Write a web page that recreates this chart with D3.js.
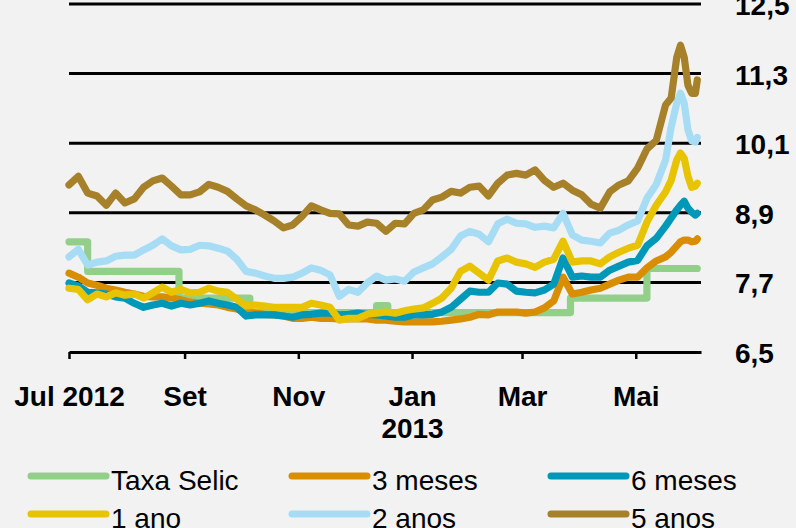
<!DOCTYPE html>
<html>
<head>
<meta charset="utf-8">
<script src="https://cdn.jsdelivr.net/npm/d3@7"></script>
<style>
  body { margin: 0; background: #f2f2f2; }
  svg { display: block; }
</style>
</head>
<body>
<script>
var width = 796, height = 528;

// sample dates (shared by the five yield curves)
var dates = ["2012-07-01","2012-07-06","2012-07-11","2012-07-16","2012-07-21","2012-07-26","2012-07-31",
  "2012-08-05","2012-08-10","2012-08-15","2012-08-20","2012-08-25","2012-08-30",
  "2012-09-04","2012-09-09","2012-09-14","2012-09-19","2012-09-24","2012-09-29",
  "2012-10-04","2012-10-09","2012-10-14","2012-10-19","2012-10-24","2012-10-29",
  "2012-11-03","2012-11-08","2012-11-13","2012-11-18","2012-11-23","2012-11-28",
  "2012-12-03","2012-12-08","2012-12-13","2012-12-18","2012-12-23","2012-12-28",
  "2013-01-02","2013-01-07","2013-01-12","2013-01-17","2013-01-22","2013-01-27",
  "2013-02-01","2013-02-06","2013-02-11","2013-02-16","2013-02-21","2013-02-26",
  "2013-03-03","2013-03-08","2013-03-13","2013-03-18","2013-03-23","2013-03-28",
  "2013-04-02","2013-04-07","2013-04-12","2013-04-17","2013-04-22","2013-04-27",
  "2013-05-02","2013-05-07","2013-05-12","2013-05-17","2013-05-20","2013-05-23",
  "2013-05-25","2013-05-27","2013-05-29","2013-05-31","2013-06-02","2013-06-03"];

var meses3 = [7.86,7.79,7.69,7.65,7.60,7.57,7.53,7.50,7.46,7.45,7.45,7.43,7.40,
  7.36,7.34,7.33,7.31,7.27,7.24,7.19,7.17,7.15,7.14,7.12,7.08,
  7.08,7.10,7.08,7.08,7.07,7.07,7.07,7.07,7.05,7.05,7.03,7.02,
  7.02,7.02,7.02,7.03,7.05,7.07,7.10,7.15,7.14,7.19,7.19,7.19,
  7.17,7.19,7.26,7.38,7.79,7.50,7.53,7.57,7.60,7.67,7.74,7.79,
  7.79,7.95,8.07,8.14,8.22,8.33,8.40,8.43,8.43,8.40,8.41,8.45];

var meses6 = [7.69,7.64,7.53,7.52,7.50,7.45,7.43,7.34,7.27,7.31,7.34,7.29,7.34,
  7.31,7.34,7.38,7.34,7.31,7.27,7.12,7.14,7.14,7.14,7.12,7.10,
  7.14,7.15,7.17,7.17,7.14,7.15,7.17,7.15,7.14,7.12,7.10,7.10,
  7.14,7.14,7.15,7.19,7.27,7.41,7.55,7.53,7.53,7.69,7.67,7.55,
  7.53,7.52,7.57,7.67,8.12,7.79,7.81,7.79,7.79,7.91,7.98,8.05,
  8.08,8.33,8.46,8.67,8.81,8.95,9.03,9.10,8.98,8.91,8.86,8.89];

var ano1 = [7.60,7.58,7.40,7.50,7.45,7.52,7.48,7.50,7.43,7.52,7.62,7.53,7.58,
  7.52,7.53,7.60,7.55,7.53,7.41,7.29,7.31,7.29,7.27,7.27,7.27,
  7.27,7.34,7.31,7.27,7.05,7.08,7.08,7.15,7.17,7.19,7.17,7.21,
  7.24,7.26,7.34,7.43,7.60,7.89,7.98,7.86,7.74,8.07,8.12,8.05,
  8.02,7.96,8.05,8.10,8.41,8.05,8.07,8.07,8.02,8.14,8.22,8.29,
  8.34,8.74,9.03,9.26,9.46,9.81,9.93,9.84,9.53,9.34,9.36,9.41];

var anos2 = [8.14,8.27,8.00,8.05,8.07,8.15,8.17,8.17,8.26,8.34,8.45,8.33,8.26,
  8.27,8.34,8.33,8.29,8.24,8.10,7.89,7.86,7.81,7.77,7.77,7.79,
  7.86,7.95,7.91,7.83,7.46,7.58,7.53,7.69,7.81,7.74,7.76,7.72,
  7.88,7.95,8.02,8.14,8.27,8.50,8.58,8.53,8.40,8.71,8.79,8.72,
  8.71,8.65,8.67,8.64,8.89,8.52,8.43,8.41,8.38,8.55,8.60,8.69,
  8.76,9.15,9.39,9.81,10.38,10.79,10.96,10.79,10.33,10.14,10.12,10.20];

var anos5 = [9.38,9.53,9.24,9.19,9.03,9.24,9.07,9.14,9.34,9.45,9.50,9.36,9.21,
  9.21,9.26,9.39,9.34,9.27,9.14,9.02,8.95,8.86,8.76,8.64,8.69,
  8.84,9.02,8.95,8.89,8.88,8.69,8.67,8.74,8.72,8.58,8.72,8.71,
  8.89,8.95,9.12,9.17,9.27,9.24,9.34,9.36,9.19,9.41,9.55,9.58,
  9.55,9.64,9.46,9.34,9.41,9.29,9.21,9.05,8.98,9.26,9.38,9.45,
  9.67,10.00,10.15,10.76,10.88,11.58,11.79,11.58,11.10,10.96,10.96,11.19];

// Selic changes only on some days: step data
var selicDates = ["2012-07-01","2012-07-11","2012-08-29","2012-10-06","2012-12-13",
  "2012-12-19","2013-03-27","2013-05-07","2013-06-03"];
var selicValues = [8.40,7.89,7.43,7.18,7.30,7.18,7.43,7.94,7.94];

var seriesNames = ["Taxa Selic","3 meses","6 meses","1 ano","2 anos","5 anos"];
var seriesColors = ["#92d08a","#d98d00","#0098b9","#e8c300","#a7dcf5","#a6812a"];

var yTicks = [6.5, 7.7, 8.9, 10.1, 11.3, 12.5];
var xTicks = ["2012-07-01","2012-09-01","2012-11-01","2013-01-01","2013-03-01","2013-05-01"];
var xTickLabels = ["Jul 2012","Set","Nov","Jan","Mar","Mai"];

var parse = d3.timeParse("%Y-%m-%d");

var x = d3.scaleTime()
    .domain([parse("2012-07-01"), parse("2013-06-05")])
    .range([69, 701]);
var y = d3.scaleLinear().domain([6.5, 12.5]).range([352, 4]);

var svg = d3.select("body").append("svg")
    .attr("width", width)
    .attr("height", height)
    .style("font-family", "'Liberation Sans', Arial, sans-serif");

svg.append("rect").attr("width", width).attr("height", height).attr("fill", "#f2f2f2");

// horizontal grid lines
svg.append("g").selectAll("line")
    .data(yTicks.slice(1))
  .enter().append("line")
    .attr("x1", x.range()[0])
    .attr("x2", x.range()[1])
    .attr("y1", function(d) { return y(d); })
    .attr("y2", function(d) { return y(d); })
    .attr("stroke", "#000")
    .attr("stroke-width", 3);

// value labels on the right
svg.append("g").selectAll("text")
    .data(yTicks)
  .enter().append("text")
    .attr("x", 735)
    .attr("y", function(d) { return y(d) + 11; })
    .attr("font-size", 28)
    .attr("font-weight", "bold")
    .text(function(d) { return d3.format(".1f")(d).replace(".", ","); });

// x axis
var xAxis = d3.axisBottom(x)
    .tickValues(xTicks.map(parse))
    .tickFormat(function(d, i) { return xTickLabels[i]; })
    .tickSize(7)
    .tickSizeOuter(0)
    .tickPadding(27);

var gx = svg.append("g")
    .attr("transform", "translate(0," + y(6.5) + ")")
    .call(xAxis);
gx.select(".domain").attr("stroke", "#000").attr("stroke-width", 3);
gx.selectAll(".tick line").attr("stroke", "#000").attr("stroke-width", 2.5);
gx.selectAll(".tick text")
    .attr("font-size", 28)
    .attr("font-weight", "bold")
    .attr("font-family", "'Liberation Sans', Arial, sans-serif")
    .attr("fill", "#000");
gx.selectAll(".tick text")
    .filter(function(d, i) { return xTickLabels[i] == "Jan"; })
    .append("tspan")
    .attr("x", 0)
    .attr("dy", 32)
    .text("2013");

// lines
var line = d3.line()
    .x(function(d) { return x(d[0]); })
    .y(function(d) { return y(d[1]); });

var selicLine = d3.line()
    .curve(d3.curveStepAfter)
    .x(function(d) { return x(d[0]); })
    .y(function(d) { return y(d[1]); });

var series = [meses3, meses6, ano1, anos2, anos5];
var plot = svg.append("g")
    .attr("fill", "none")
    .attr("stroke-width", 7.2)
    .attr("stroke-linejoin", "round")
    .attr("stroke-linecap", "round");

plot.append("path")
    .datum(selicDates.map(function(d, i) { return [parse(d), selicValues[i]]; }))
    .attr("stroke", seriesColors[0])
    .attr("d", selicLine);

plot.selectAll(".serie")
    .data(series)
  .enter().append("path")
    .attr("class", "serie")
    .attr("stroke", function(d, i) { return seriesColors[i + 1]; })
    .attr("d", function(vals) {
      return line(dates.map(function(d, i) { return [parse(d), vals[i]]; }));
    });

// legend, 3 columns x 2 rows
var legend = svg.append("g").selectAll("g")
    .data(seriesNames)
  .enter().append("g")
    .attr("transform", function(d, i) {
      var col = i % 3, row = Math.floor(i / 3);
      return "translate(" + [31, 292, 551][col] + "," + (476 + row * 38) + ")";
    });

legend.append("line")
    .attr("x1", 0).attr("x2", 75)
    .attr("stroke", function(d, i) { return seriesColors[i]; })
    .attr("stroke-width", 7)
    .attr("stroke-linecap", "round");

legend.append("text")
    .attr("x", 80)
    .attr("y", 14)
    .attr("font-size", 28)
    .attr("fill", "#000")
    .text(function(d) { return d; });
</script>
</body>
</html>
